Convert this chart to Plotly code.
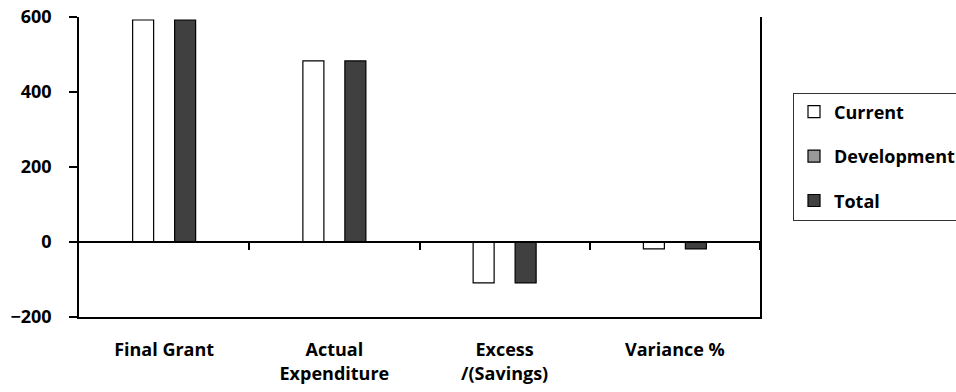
import plotly.graph_objects as go

categories = ["Final Grant", "Actual<br>Expenditure", "Excess<br>/(Savings)", "Variance %"]
current = [592, 483, -109, -18.4]
development = [0, 0, 0, 0]
total = [592, 483, -109, -18.4]

series_names = ["Current", "Development", "Total"]
series_colors = ["#ffffff", "#999999", "#404040"]
y_ticks = [-200, 0, 200, 400, 600]

FONT = "Open Sans"
FS = 18
fig = go.Figure()
for name, vals, col in zip(series_names, [current, development, total], series_colors):
    fig.add_trace(go.Bar(
        x=categories, y=vals, name=name, legendgroup=name,
        marker=dict(color=col, line=dict(color="#000000", width=1.2)),
    ))

# helper trace for the zero-line axis carrying the category boundary ticks
fig.add_trace(go.Scatter(
    x=list(range(len(categories))), y=[0] * len(categories),
    xaxis="x2", mode="markers", marker=dict(opacity=0),
    showlegend=False, hoverinfo="skip",
))

fig.update_layout(
    width=956, height=392,
    margin=dict(l=79, r=196, t=17, b=75),
    paper_bgcolor="white", plot_bgcolor="white",
    barmode="group", bargap=0.63, bargroupgap=0,
    font=dict(family=FONT, size=FS, color="#000000", weight="bold"),
    showlegend=True,
    legend=dict(
        xref="container", yref="container",
        x=0.8295, xanchor="left", y=0.764, yanchor="top",
        bordercolor="#333333", borderwidth=1, bgcolor="white",
        tracegroupgap=18, font=dict(family=FONT, size=FS, weight="bold"),
        itemwidth=30,
    ),
    xaxis=dict(
        type="category", showline=True, linecolor="#000000", linewidth=1.5,
        ticks="", showgrid=False, zeroline=False, automargin=False,
        ticklabelstandoff=16,
        tickfont=dict(family=FONT, size=FS, weight="bold"),
    ),
    xaxis2=dict(
        overlaying="x", anchor="free", position=0.25,
        range=[-0.5, len(categories) - 0.5],
        tickvals=[i + 0.5 for i in range(len(categories))],
        ticks="outside", ticklen=7, tickwidth=1.5, tickcolor="#000000",
        showticklabels=False, showline=True, linecolor="#000000", linewidth=1.5,
        showgrid=False, zeroline=False, automargin=False,
    ),
    yaxis=dict(
        range=[-200, 600], tickvals=y_ticks, automargin=False,
        showline=True, mirror=True, linecolor="#000000", linewidth=1.5,
        ticks="outside", ticklen=8, tickwidth=1.5, tickcolor="#000000",
        ticklabelstandoff=14, showgrid=False, zeroline=False,
        tickfont=dict(family=FONT, size=FS, weight="bold"),
    ),
)

fig.write_html("out.html")
